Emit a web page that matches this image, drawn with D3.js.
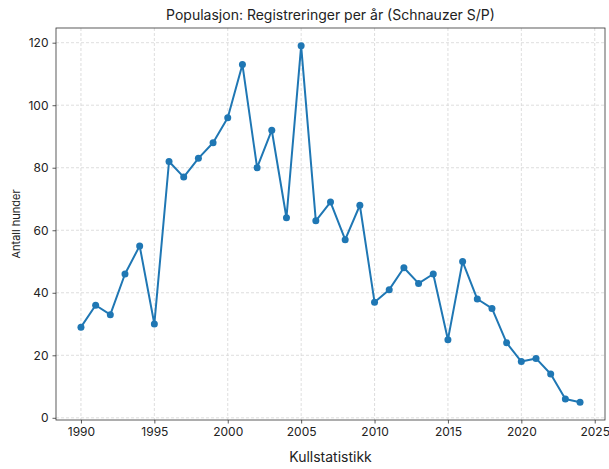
<!DOCTYPE html>
<html>
<head>
<meta charset="utf-8">
<script src="https://cdn.jsdelivr.net/npm/d3@7"></script>
<style>
  body { margin: 0; background: #fff; }
  text { font-family: Inter, "Noto Sans", sans-serif; fill: #222; }
</style>
</head>
<body>
<div id="graph"></div>
<script>
const years = [1990, 1991, 1992, 1993, 1994, 1995, 1996, 1997, 1998, 1999,
  2000, 2001, 2002, 2003, 2004, 2005, 2006, 2007, 2008, 2009,
  2010, 2011, 2012, 2013, 2014, 2015, 2016, 2017, 2018, 2019,
  2020, 2021, 2022, 2023, 2024];
const registrations = [29, 36, 33, 46, 55, 30, 82, 77, 83, 88,
  96, 113, 80, 92, 64, 119, 63, 69, 57, 68,
  37, 41, 48, 43, 46, 25, 50, 38, 35, 24,
  18, 19, 14, 6, 5];
const xTicks = [1990, 1995, 2000, 2005, 2010, 2015, 2020, 2025];
const yTicks = [0, 20, 40, 60, 80, 100, 120];

const title = 'Populasjon: Registreringer per år (Schnauzer S/P)';
const xLabelText = 'Kullstatistikk';
const yLabelText = 'Antall hunder';

const lineColor = '#1f77b4';

let dimensions = {
  width: 609,
  height: 469,
  margin: { top: 28, right: 4, bottom: 49, left: 56 },
};
dimensions.boundedWidth = dimensions.width - dimensions.margin.left - dimensions.margin.right;
dimensions.boundedHeight = dimensions.height - dimensions.margin.top - dimensions.margin.bottom;

function drawLine() {
  const data = years.map((y, i) => ({ year: y, value: registrations[i] }));

  const wrapper = d3.select('#graph')
    .append('svg')
    .attr('width', dimensions.width)
    .attr('height', dimensions.height);

  const bounds = wrapper.append('g')
    .attr('transform', `translate(${dimensions.margin.left},${dimensions.margin.top})`);

  // matplotlib style 5% padding
  const xExt = d3.extent(years);
  const xPad = (xExt[1] - xExt[0]) * 0.05;
  const yExt = d3.extent(registrations);
  const yPad = (yExt[1] - yExt[0]) * 0.05;

  const xScaler = d3.scaleLinear()
    .domain([xExt[0] - xPad, xExt[1] + xPad])
    .range([0, dimensions.boundedWidth]);

  const yScaler = d3.scaleLinear()
    .domain([yExt[0] - yPad, yExt[1] + yPad])
    .range([dimensions.boundedHeight, 0]);

  // grid
  const grid = bounds.append('g');
  grid.selectAll('.vgrid')
    .data(xTicks)
    .enter()
    .append('line')
    .attr('x1', d => xScaler(d))
    .attr('x2', d => xScaler(d))
    .attr('y1', 0)
    .attr('y2', dimensions.boundedHeight)
    .attr('stroke', '#d6d6d6')
    .attr('stroke-width', 0.8)
    .attr('stroke-dasharray', '3,2');
  grid.selectAll('.hgrid')
    .data(yTicks)
    .enter()
    .append('line')
    .attr('x1', 0)
    .attr('x2', dimensions.boundedWidth)
    .attr('y1', d => yScaler(d))
    .attr('y2', d => yScaler(d))
    .attr('stroke', '#d6d6d6')
    .attr('stroke-width', 0.8)
    .attr('stroke-dasharray', '3,2');

  // line + points
  const lineGen = d3.line()
    .x(d => xScaler(d.year))
    .y(d => yScaler(d.value));

  bounds.append('path')
    .datum(data)
    .attr('d', lineGen)
    .attr('fill', 'none')
    .attr('stroke', lineColor)
    .attr('stroke-width', 2)
    .attr('stroke-linejoin', 'round');

  bounds.append('g')
    .selectAll('circle')
    .data(data)
    .enter()
    .append('circle')
    .attr('cx', d => xScaler(d.year))
    .attr('cy', d => yScaler(d.value))
    .attr('r', 3.5)
    .attr('fill', lineColor);

  // axes
  const xAxisGen = d3.axisBottom(xScaler)
    .tickValues(xTicks)
    .tickFormat(d3.format('d'))
    .tickSize(3.5)
    .tickPadding(4);
  const yAxisGen = d3.axisLeft(yScaler)
    .tickValues(yTicks)
    .tickSize(3.5)
    .tickPadding(4);

  const xAxis = bounds.append('g')
    .attr('transform', `translate(0,${dimensions.boundedHeight})`)
    .call(xAxisGen);
  const yAxis = bounds.append('g')
    .call(yAxisGen);

  [xAxis, yAxis].forEach(ax => {
    ax.select('.domain').remove();
    ax.selectAll('line').attr('stroke', '#333').attr('stroke-width', 0.8);
    ax.selectAll('text')
      .attr('font-size', '12px')
      .attr('fill', '#222')
      .style('font-family', 'Inter, "Noto Sans", sans-serif');
  });

  // frame
  bounds.append('rect')
    .attr('x', 0)
    .attr('y', 0)
    .attr('width', dimensions.boundedWidth)
    .attr('height', dimensions.boundedHeight)
    .attr('fill', 'none')
    .attr('stroke', '#333')
    .attr('stroke-width', 0.8);

  // labels
  wrapper.append('text')
    .attr('x', dimensions.margin.left + dimensions.boundedWidth / 2)
    .attr('y', 20)
    .attr('text-anchor', 'middle')
    .attr('font-size', '14px')
    .text(title);

  wrapper.append('text')
    .attr('x', dimensions.margin.left + dimensions.boundedWidth / 2)
    .attr('y', 462)
    .attr('text-anchor', 'middle')
    .attr('font-size', '14px')
    .text(xLabelText);

  wrapper.append('text')
    .attr('transform', `translate(20,${dimensions.margin.top + dimensions.boundedHeight / 2}) rotate(-90)`)
    .attr('text-anchor', 'middle')
    .attr('font-size', '11px')
    .text(yLabelText);
}

drawLine();
</script>
</body>
</html>
